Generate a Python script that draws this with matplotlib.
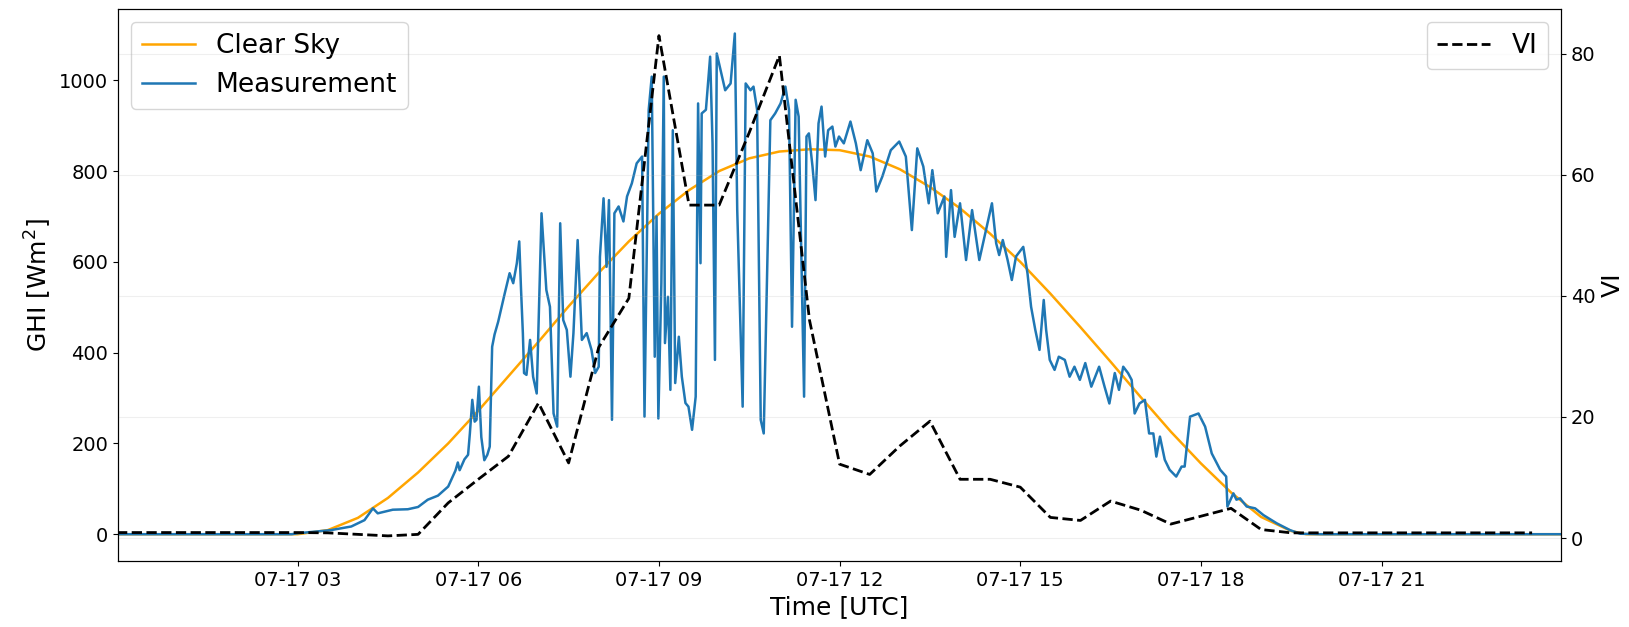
import matplotlib
matplotlib.use("Agg")
import matplotlib.pyplot as plt
import pandas as pd

# ---------------- data (hours after 2023-07-17 00:00 UTC) ----------------
clear_hours = [0.02, 3.0, 3.5, 4.0, 4.5, 5.0, 5.5, 6.0, 6.5, 7.0, 7.5, 8.0, 8.5,
               9.0, 9.5, 10.0, 10.5, 11.0, 11.5, 12.0, 12.5, 13.0, 13.5, 14.0,
               14.5, 15.0, 15.5, 16.0, 16.5, 17.0, 17.5, 18.0, 18.5, 19.0,
               19.5, 19.75, 23.98]
clear_ghi = [0, 0, 9, 36, 80, 136, 200, 272, 348, 424, 502, 576, 645,
             706, 758, 800, 828, 843, 848, 846, 832, 804, 765, 718,
             662, 600, 530, 456, 380, 302, 226, 156, 92, 38,
             7, 0, 0]

meas_hours = [0.02, 2.9, 3.0, 3.55, 3.89, 4.11, 4.19, 4.25, 4.33, 4.58, 4.83, 5.0,
              5.16, 5.33, 5.5, 5.62, 5.66, 5.69, 5.77, 5.83, 5.86, 5.9, 5.94,
              5.97, 6.01, 6.05, 6.1, 6.15, 6.19, 6.23, 6.27, 6.33, 6.44, 6.52,
              6.58, 6.64, 6.68, 6.71, 6.74, 6.76, 6.8, 6.86, 6.91, 6.97, 7.05,
              7.13, 7.19, 7.25, 7.31, 7.36, 7.41, 7.47, 7.53, 7.58, 7.65, 7.72,
              7.8, 7.88, 7.94, 8.0, 8.02, 8.08, 8.13, 8.17, 8.22, 8.26, 8.33,
              8.41, 8.47, 8.55, 8.63, 8.72, 8.76, 8.83, 8.88, 8.93, 8.96, 8.99,
              9.04, 9.08, 9.1, 9.15, 9.19, 9.23, 9.27, 9.33, 9.38, 9.44, 9.49,
              9.55, 9.61, 9.65, 9.69, 9.71, 9.78, 9.85, 9.89, 9.93, 9.96, 10.1,
              10.19, 10.26, 10.3, 10.39, 10.44, 10.52, 10.57, 10.63, 10.69,
              10.74, 10.8, 10.85, 10.93, 11.02, 11.1, 11.16, 11.21, 11.27,
              11.32, 11.41, 11.45, 11.49, 11.55, 11.6, 11.65, 11.7, 11.76,
              11.81, 11.88, 11.93, 11.99, 12.07, 12.18, 12.27, 12.35, 12.46,
              12.55, 12.61, 12.71, 12.85, 12.99, 13.1, 13.2, 13.29, 13.39,
              13.48, 13.54, 13.63, 13.74, 13.77, 13.85, 13.91, 14.0, 14.1,
              14.2, 14.32, 14.43, 14.53, 14.6, 14.65, 14.71, 14.79, 14.86,
              14.93, 15.01, 15.05, 15.12, 15.18, 15.25, 15.32, 15.39, 15.43,
              15.49, 15.57, 15.64, 15.74, 15.82, 15.9, 15.99, 16.08, 16.18,
              16.31, 16.4, 16.48, 16.57, 16.64, 16.71, 16.79, 16.85, 16.9,
              16.98, 17.07, 17.14, 17.21, 17.26, 17.32, 17.4, 17.48, 17.59,
              17.68, 17.73, 17.82, 17.96, 18.07, 18.18, 18.32, 18.42, 18.44,
              18.54, 18.59, 18.65, 18.76, 18.9, 19.04, 19.26, 19.48, 19.65,
              20.0, 23.98]
meas_ghi = [0, 0, 2, 9, 17, 31, 46, 57, 46, 54, 55, 60,
            76, 85, 105, 140, 158, 141, 165, 175, 222, 296, 248,
            252, 325, 214, 163, 175, 193, 413, 440, 468, 531, 575,
            553, 597, 645, 538, 443, 355, 351, 428, 347, 310, 707,
            538, 501, 266, 237, 685, 472, 450, 347, 443, 648, 428,
            443, 406, 355, 369, 611, 740, 589, 736, 252, 707, 722,
            689, 744, 773, 817, 832, 259, 935, 1008, 391, 700, 255,
            553, 1008, 421, 523, 318, 890, 333, 435, 347, 289, 281,
            230, 303, 949, 597, 927, 935, 1052, 861, 384, 1059, 978,
            993, 1103, 714, 281, 993, 978, 986, 935, 252,
            222, 604, 912, 927, 949, 986, 935, 457, 957,
            920, 303, 876, 883, 810, 736, 905, 942, 832,
            890, 898, 854, 876, 861, 909, 861, 802, 868,
            839, 755, 788, 846, 865, 832, 670, 850, 810,
            729, 802, 707, 744, 611, 758, 655, 729, 604,
            714, 604, 670, 729, 641, 615, 648, 604, 560,
            612, 626, 633, 575, 501, 450, 406, 516, 450,
            384, 362, 391, 384, 347, 369, 340, 377, 325,
            369, 325, 288, 355, 318, 369, 355, 340, 266,
            288, 296, 222, 222, 171, 215, 164, 142, 127,
            149, 149, 259, 266, 237, 178, 142, 127, 61,
            90, 76, 79, 61, 57, 42, 24, 9, 1,
            0, 0]

vi_hours = [0.0, 0.5, 1.0, 1.5, 2.0, 2.5, 3.0, 3.5, 4.0, 4.5, 5.0, 5.5, 6.0,
            6.5, 7.0, 7.5, 8.0, 8.5, 9.0, 9.5, 10.0, 10.5, 11.0, 11.5, 12.0,
            12.5, 13.0, 13.5, 14.0, 14.5, 15.0, 15.5, 16.0, 16.5, 17.0, 17.5,
            18.0, 18.5, 19.0, 19.5, 20.0, 20.5, 21.0, 21.5, 22.0, 22.5, 23.0,
            23.5]
vi_values = [0.9, 0.9, 0.9, 0.9, 0.9, 0.9, 0.9, 0.85, 0.6, 0.35, 0.6, 5.8, 9.7,
             13.5, 22.3, 12.4, 31.5, 39.6, 83.0, 55.0, 55.0, 67.0, 79.7, 36.0, 12.2,
             10.5, 15.2, 19.3, 9.7, 9.7, 8.4, 3.4, 2.9, 6.1, 4.6, 2.3,
             3.6, 4.9, 1.4, 0.85, 0.85, 0.85, 0.85, 0.85, 0.85, 0.85, 0.85,
             0.85]

base = pd.Timestamp("2023-07-17 00:00")


def to_time(hours):
    return [base + pd.Timedelta(hours=h) for h in hours]


# ---------------- figure ----------------
fig = plt.figure(figsize=(16.29, 6.27), dpi=100)
ax = fig.add_axes([118 / 1629, 1 - 561 / 627, (1561 - 118) / 1629, (561 - 9) / 627])

ax.plot(to_time(clear_hours), clear_ghi, color="orange", lw=1.8, label="Clear Sky")
ax.plot(to_time(meas_hours), meas_ghi, color="tab:blue", lw=1.8, label="Measurement")
ax.set_ylim(-59, 1157)
ax.set_xlim(base + pd.Timedelta(minutes=1), base + pd.Timedelta(hours=23.98))
ax.set_xlabel("Time [UTC]", fontsize=18)
ax.set_ylabel("GHI [Wm$^2$]", fontsize=18)
ax.tick_params(labelsize=14)
ax.legend(loc="upper left", fontsize=19)

ax2 = ax.twinx()
ax2.plot(to_time(vi_hours), vi_values, "k--", lw=2, label="VI")
ax2.set_ylim(-3.8, 87.4)
ax2.set_ylabel("VI", fontsize=18)
ax2.tick_params(labelsize=14)
ax2.grid(axis="y", alpha=0.2)
ax2.legend(loc="upper right", fontsize=19)
ax2.set_xlim(base + pd.Timedelta(minutes=1), base + pd.Timedelta(hours=23.98))

fig.savefig("out.png", dpi=100)
